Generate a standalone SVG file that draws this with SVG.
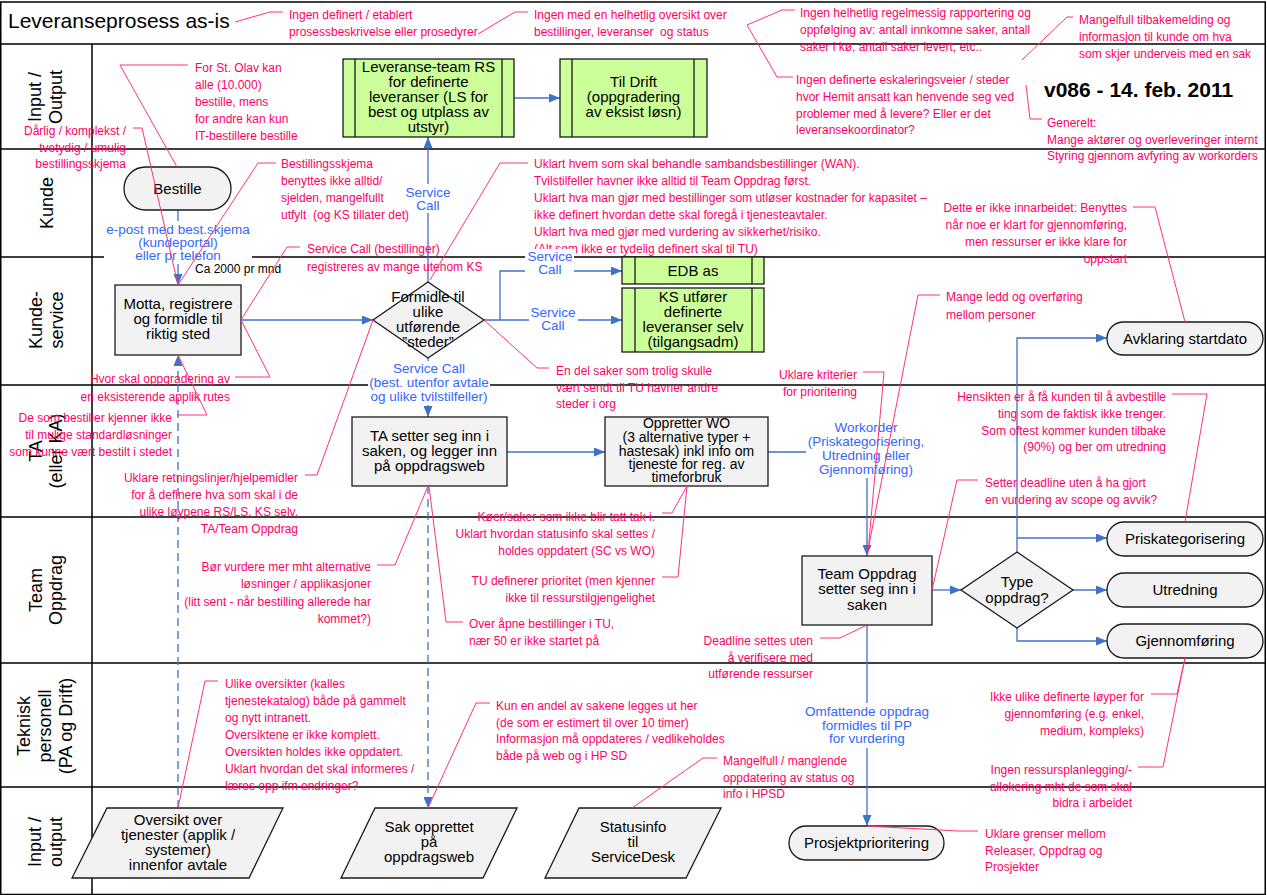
<svg xmlns="http://www.w3.org/2000/svg" width="1267" height="895" viewBox="0 0 1267 895">
<style>
text{font-family:"Liberation Sans",Arial,Helvetica,sans-serif;white-space:pre}
.lane{stroke:#000;stroke-width:1.5;fill:none}
.node{fill:#f2f2f2;stroke:#1a1a1a;stroke-width:1.3}
.sub{fill:#ccff99;stroke:#1a1a1a;stroke-width:1.3}
.nt{font-size:15px;fill:#000;text-anchor:middle}
.ll{font-size:18px;fill:#000;text-anchor:middle}
.bl{font-size:13.5px;fill:#3366ff;text-anchor:middle}
.bg{fill:#fff;stroke:none}
.rt{font-size:12px;fill:#ff0066}
.re{text-anchor:end}
.cl{fill:none;stroke:#ff3377;stroke-width:1}
.cn{fill:none;stroke:#3f72c6;stroke-width:1.3}
.dash{stroke-dasharray:8 5}
</style>
<defs>
<marker id="arr" viewBox="0 0 11 9" refX="11" refY="4.5" markerWidth="11" markerHeight="9" markerUnits="userSpaceOnUse" orient="auto"><path d="M0,0 L11,4.5 L0,9 z" fill="#3f72c6"/></marker>
</defs>
<rect width="1267" height="895" fill="#fff"/>
<g id="lanes">
<rect class="lane" x="0.75" y="2" width="1264.5" height="892.5"/>
<path class="lane" d="M0,44 H1265 M0,149 H1265 M0,257 H1265 M0,385 H1265 M0,517 H1265 M0,663 H1265 M0,787 H1265 M92,44 V895"/>
<text x="8" y="28" style="font-size:21px">Leveranseprosess as-is</text>
<text x="1044" y="97" style="font-size:21px;font-weight:bold">v086 - 14. feb. 2011</text>
<text class="ll" transform="translate(0,97) rotate(-90)"><tspan x="0" y="41">Input /</tspan><tspan x="0" y="62">Output</tspan></text>
<text class="ll" transform="translate(0,203) rotate(-90)"><tspan x="0" y="53">Kunde</tspan></text>
<text class="ll" transform="translate(0,320) rotate(-90)"><tspan x="0" y="42">Kunde-</tspan><tspan x="0" y="63">service</tspan></text>
<text class="ll" transform="translate(0,451) rotate(-90)"><tspan x="0" y="42">TA</tspan><tspan x="0" y="62">(eller KA)</tspan></text>
<text class="ll" transform="translate(0,590) rotate(-90)"><tspan x="0" y="42">Team</tspan><tspan x="0" y="62">Oppdrag</tspan></text>
<text class="ll" transform="translate(0,726) rotate(-90)"><tspan x="0" y="30">Teknisk</tspan><tspan x="0" y="51">personell</tspan><tspan x="0" y="72">(PA og Drift)</tspan></text>
<text class="ll" transform="translate(0,842) rotate(-90)"><tspan x="0" y="41">Input /</tspan><tspan x="0" y="62">output</tspan></text>
</g>
<g id="connectors">
<path class="cn" d="M514,98 H560" marker-end="url(#arr)"/>
<path class="cn" d="M178,210 V285" marker-end="url(#arr)"/>
<path class="cn" d="M241,320 H373" marker-end="url(#arr)"/>
<path class="cn" d="M428,282 V137" marker-end="url(#arr)"/>
<path class="cn" d="M484,320 H622" marker-end="url(#arr)"/>
<path class="cn" d="M500,320 V271 H622" marker-end="url(#arr)"/>
<path class="cn" d="M428,358 V417" marker-end="url(#arr)"/>
<path class="cn" d="M507,452 H605" marker-end="url(#arr)"/>
<path class="cn" d="M768,452 H867 V556" marker-end="url(#arr)"/>
<path class="cn" d="M932,590 H961" marker-end="url(#arr)"/>
<path class="cn" d="M1017,552 V338 H1107" marker-end="url(#arr)"/>
<path class="cn" d="M1017,538 H1107" marker-end="url(#arr)"/>
<path class="cn" d="M1073,590 H1107" marker-end="url(#arr)"/>
<path class="cn" d="M1017,628 V641 H1107" marker-end="url(#arr)"/>
<path class="cn" d="M867,625 V826" marker-end="url(#arr)"/>
<path class="cn dash" d="M178,808 V355" marker-end="url(#arr)"/>
<path class="cn dash" d="M428,486 V808" marker-end="url(#arr)"/>
</g>
<g id="n-leveranseteam">
<rect class="sub" x="343" y="59" width="171" height="78"/>
<path class="sub" d="M355,59 V137 M502,59 V137"/>
<text class="nt"><tspan x="428.5" y="72">Leveranse-team RS</tspan><tspan x="428.5" y="87">for definerte</tspan><tspan x="428.5" y="102">leveranser (LS for</tspan><tspan x="428.5" y="117">best og utplass av</tspan><tspan x="428.5" y="132">utstyr)</tspan></text>
</g>
<g id="n-tildrift">
<rect class="sub" x="560" y="59" width="147" height="78"/>
<path class="sub" d="M572,59 V137 M694,59 V137"/>
<text class="nt"><tspan x="633.5" y="87">Til Drift</tspan><tspan x="633.5" y="102">(oppgradering</tspan><tspan x="633.5" y="117">av eksist løsn)</tspan></text>
</g>
<g id="n-bestille">
<rect class="node" x="124" y="167" width="107" height="43" rx="21.5"/>
<text class="nt" x="177.5" y="194">Bestille</text>
</g>
<g id="n-motta">
<rect class="node" x="115" y="285" width="126" height="70"/>
<text class="nt"><tspan x="178" y="309">Motta, registrere</tspan><tspan x="178" y="324">og formidle til</tspan><tspan x="178" y="339">riktig sted</tspan></text>
</g>
<g id="n-formidle">
<path class="node" d="M428,282 L484,320 L428,358 L373,320 Z"/>
<text class="nt"><tspan x="428" y="302">Formidle til</tspan><tspan x="428" y="317">ulike</tspan><tspan x="428" y="332">utførende</tspan><tspan x="428" y="347">”steder”</tspan></text>
</g>
<g id="n-edb">
<rect class="sub" x="622" y="257" width="142" height="27"/>
<path class="sub" d="M635,257 V284 M752,257 V284"/>
<text class="nt" x="693" y="276">EDB as</text>
</g>
<g id="n-ks">
<rect class="sub" x="622" y="288" width="142" height="64"/>
<path class="sub" d="M635,288 V352 M752,288 V352"/>
<text class="nt"><tspan x="693" y="302">KS utfører</tspan><tspan x="693" y="317">definerte</tspan><tspan x="693" y="332">leveranser selv</tspan><tspan x="693" y="347">(tilgangsadm)</tspan></text>
</g>
<g id="n-ta">
<rect class="node" x="352" y="417" width="155" height="69"/>
<text class="nt"><tspan x="429.5" y="441">TA setter seg inn i</tspan><tspan x="429.5" y="456">saken, og legger inn</tspan><tspan x="429.5" y="471">på oppdragsweb</tspan></text>
</g>
<g id="n-wo">
<rect class="node" x="605" y="417" width="163" height="69"/>
<text class="nt" style="font-size:14px"><tspan x="686.5" y="428">Oppretter WO</tspan><tspan x="686.5" y="442">(3 alternative typer +</tspan><tspan x="686.5" y="455.5">hastesak) inkl info om</tspan><tspan x="686.5" y="469">tjeneste for reg. av</tspan><tspan x="686.5" y="482">timeforbruk</tspan></text>
</g>
<g id="n-teamoppdrag">
<rect class="node" x="802" y="556" width="130" height="69"/>
<text class="nt"><tspan x="867" y="579">Team Oppdrag</tspan><tspan x="867" y="594">setter seg inn i</tspan><tspan x="867" y="610">saken</tspan></text>
</g>
<g id="n-type">
<path class="node" d="M1017,552 L1073,590 L1017,628 L961,590 Z"/>
<text class="nt"><tspan x="1017" y="587">Type</tspan><tspan x="1017" y="603">oppdrag?</tspan></text>
</g>
<g id="n-avklaring">
<rect class="node" x="1107" y="322" width="156" height="33" rx="16.5"/>
<text class="nt" x="1185" y="344">Avklaring startdato</text>
</g>
<g id="n-pris">
<rect class="node" x="1107" y="522" width="156" height="34" rx="17"/>
<text class="nt" x="1185" y="544">Priskategorisering</text>
</g>
<g id="n-utredning">
<rect class="node" x="1107" y="573" width="156" height="34" rx="17"/>
<text class="nt" x="1185" y="595">Utredning</text>
</g>
<g id="n-gjennomforing">
<rect class="node" x="1107" y="624" width="156" height="34" rx="17"/>
<text class="nt" x="1185" y="646">Gjennomføring</text>
</g>
<g id="n-prosjekt">
<rect class="node" x="789" y="826" width="155" height="34" rx="17"/>
<text class="nt" x="866.5" y="848">Prosjektprioritering</text>
</g>
<g id="n-oversikt">
<path class="node" d="M107,808 H283 L249,878 H72 Z"/>
<text class="nt"><tspan x="178" y="825">Oversikt over</tspan><tspan x="178" y="840">tjenester (applik /</tspan><tspan x="178" y="855">systemer)</tspan><tspan x="178" y="870">innenfor avtale</tspan></text>
</g>
<g id="n-sak">
<path class="node" d="M375,808 H517 L483,878 H341 Z"/>
<text class="nt"><tspan x="429" y="832">Sak opprettet</tspan><tspan x="429" y="847">på</tspan><tspan x="429" y="862">oppdragsweb</tspan></text>
</g>
<g id="n-statusinfo">
<path class="node" d="M579,808 H721 L686,878 H545 Z"/>
<text class="nt"><tspan x="633" y="832">Statusinfo</tspan><tspan x="633" y="847">til</tspan><tspan x="633" y="862">ServiceDesk</tspan></text>
</g>
<g id="callout-texts">
<text class="rt"><tspan x="289" y="19">Ingen definert / etablert</tspan><tspan x="289" y="36">prosessbeskrivelse eller prosedyrer</tspan></text>
<text class="rt"><tspan x="534" y="19">Ingen med en helhetlig oversikt over</tspan><tspan x="534" y="36">bestillinger, leveranser  og status</tspan></text>
<text class="rt"><tspan x="800" y="17">Ingen helhetlig regelmessig rapportering og</tspan><tspan x="800" y="34">oppfølging av: antall innkomne saker, antall</tspan><tspan x="800" y="51">saker i kø, antall saker levert, etc..</tspan></text>
<text class="rt"><tspan x="796" y="84">Ingen definerte eskaleringsveier / steder</tspan><tspan x="796" y="101">hvor Hemit ansatt kan henvende seg ved</tspan><tspan x="796" y="118">problemer med å levere? Eller er det</tspan><tspan x="796" y="134">leveransekoordinator?</tspan></text>
<text class="rt"><tspan x="1079" y="24">Mangelfull tilbakemelding og</tspan><tspan x="1079" y="41">informasjon til kunde om hva</tspan><tspan x="1079" y="58">som skjer underveis med en sak</tspan></text>
<text class="rt"><tspan x="1047" y="127">Generelt:</tspan><tspan x="1047" y="144">Mange aktører og overleveringer internt</tspan><tspan x="1047" y="160">Styring gjennom avfyring av workorders</tspan></text>
<text class="rt"><tspan x="195" y="72">For St. Olav kan</tspan><tspan x="195" y="89">alle (10.000)</tspan><tspan x="195" y="106">bestille, mens</tspan><tspan x="195" y="123">for andre kan kun</tspan><tspan x="195" y="140">IT-bestillere bestille</tspan></text>
<text class="rt re"><tspan x="126" y="135">Dårlig / komplekst /</tspan><tspan x="126" y="152">tvetydig / umulig</tspan><tspan x="126" y="168">bestillingsskjema</tspan></text>
<text class="rt"><tspan x="281" y="168">Bestillingsskjema</tspan><tspan x="281" y="185">benyttes ikke alltid/</tspan><tspan x="281" y="202">sjelden, mangelfullt</tspan><tspan x="281" y="219">utfylt  (og KS tillater det)</tspan></text>
<text class="rt"><tspan x="307" y="253">Service Call (bestillinger)</tspan><tspan x="307" y="271">registreres av mange utenom KS</tspan></text>
<text class="rt re"><tspan x="230" y="383">Hvor skal oppgradering av</tspan><tspan x="230" y="401">en eksisterende applik rutes</tspan></text>
<text class="rt re"><tspan x="172" y="422">De som bestiller kjenner ikke</tspan><tspan x="172" y="439">til mulige standardløsninger</tspan><tspan x="172" y="456">som kunne vært bestilt i stedet</tspan></text>
<text class="rt re"><tspan x="298" y="482">Uklare retningslinjer/hjelpemidler</tspan><tspan x="298" y="499">for å definere hva som skal i de</tspan><tspan x="298" y="516">ulike løypene RS/LS, KS selv,</tspan><tspan x="298" y="533">TA/Team Oppdrag</tspan></text>
<text class="rt"><tspan x="534" y="168">Uklart hvem som skal behandle sambandsbestillinger (WAN).</tspan><tspan x="534" y="185">Tvilstilfeller havner ikke alltid til Team Oppdrag først.</tspan><tspan x="534" y="202">Uklart hva man gjør med bestillinger som utløser kostnader for kapasitet –</tspan><tspan x="534" y="219">ikke definert hvordan dette skal foregå i tjenesteavtaler.</tspan><tspan x="534" y="236">Uklart hva med gjør med vurdering av sikkerhet/risiko.</tspan><tspan x="534" y="253">(Alt som ikke er tydelig definert skal til TU)</tspan></text>
<text class="rt"><tspan x="556" y="375">En del saker som trolig skulle</tspan><tspan x="556" y="392">vært sendt til TU havner andre</tspan><tspan x="556" y="408">steder i org</tspan></text>
<text class="rt re"><tspan x="1127" y="212">Dette er ikke innarbeidet: Benyttes</tspan><tspan x="1127" y="229">når noe er klart for gjennomføring,</tspan><tspan x="1127" y="246">men ressurser er ikke klare for</tspan><tspan x="1127" y="263">oppstart</tspan></text>
<text class="rt"><tspan x="946" y="301">Mange ledd og overføring</tspan><tspan x="946" y="319">mellom personer</tspan></text>
<text class="rt re"><tspan x="857" y="379">Uklare kriterier</tspan><tspan x="857" y="396">for prioritering</tspan></text>
<text class="rt re"><tspan x="1166" y="401">Hensikten er å få kunden til å avbestille</tspan><tspan x="1166" y="418">ting som de faktisk ikke trenger.</tspan><tspan x="1166" y="435">Som oftest kommer kunden tilbake</tspan><tspan x="1166" y="451">(90%) og ber om utredning</tspan></text>
<text class="rt"><tspan x="985" y="487">Setter deadline uten å ha gjort</tspan><tspan x="985" y="504">en vurdering av scope og avvik?</tspan></text>
<text class="rt re"><tspan x="655" y="521">Køer/saker som ikke blir tatt tak i.</tspan><tspan x="655" y="538">Uklart hvordan statusinfo skal settes /</tspan><tspan x="655" y="555">holdes oppdatert (SC vs WO)</tspan></text>
<text class="rt re"><tspan x="655" y="585">TU definerer prioritet (men kjenner</tspan><tspan x="655" y="602">ikke til ressurstilgjengelighet</tspan></text>
<text class="rt re"><tspan x="371" y="571">Bør vurdere mer mht alternative</tspan><tspan x="371" y="588">løsninger / applikasjoner</tspan><tspan x="371" y="606">(litt sent - når bestilling allerede har</tspan><tspan x="371" y="623">kommet?)</tspan></text>
<text class="rt"><tspan x="469" y="628">Over åpne bestillinger i TU,</tspan><tspan x="469" y="645">nær 50 er ikke startet på</tspan></text>
<text class="rt"><tspan x="225" y="688">Ulike oversikter (kalles</tspan><tspan x="225" y="705">tjenestekatalog) både på gammelt</tspan><tspan x="225" y="722">og nytt intranett.</tspan><tspan x="225" y="739">Oversiktene er ikke komplett.</tspan><tspan x="225" y="756">Oversikten holdes ikke oppdatert.</tspan><tspan x="225" y="773">Uklart hvordan det skal informeres /</tspan><tspan x="225" y="790">læres opp ifm endringer?</tspan></text>
<text class="rt"><tspan x="496" y="710">Kun en andel av sakene legges ut her</tspan><tspan x="496" y="727">(de som er estimert til over 10 timer)</tspan><tspan x="496" y="743">Informasjon må oppdateres / vedlikeholdes</tspan><tspan x="496" y="760">både på web og i HP SD</tspan></text>
<text class="rt"><tspan x="723" y="765">Mangelfull / manglende</tspan><tspan x="723" y="782">oppdatering av status og</tspan><tspan x="723" y="798">info i HPSD</tspan></text>
<text class="rt re"><tspan x="813" y="645">Deadline settes uten</tspan><tspan x="813" y="662">å verifisere med</tspan><tspan x="813" y="678">utførende ressurser</tspan></text>
<text class="rt re"><tspan x="1144" y="701">Ikke ulike definerte løyper for</tspan><tspan x="1144" y="718">gjennomføring (e.g. enkel,</tspan><tspan x="1144" y="735">medium, kompleks)</tspan></text>
<text class="rt re"><tspan x="1132" y="774">Ingen ressursplanlegging/-</tspan><tspan x="1132" y="791">allokering mht de som skal</tspan><tspan x="1132" y="807">bidra i arbeidet</tspan></text>
<text class="rt"><tspan x="985" y="838">Uklare grenser mellom</tspan><tspan x="985" y="855">Releaser, Oppdrag og</tspan><tspan x="985" y="871">Prosjekter</tspan></text>
</g>
<g id="connector-labels">
<rect class="bg" x="421" y="184" width="14" height="29"/>
<text class="bl"><tspan x="428" y="197">Service</tspan><tspan x="428" y="210">Call</tspan></text>
<rect class="bg" x="104" y="221" width="148" height="43"/>
<text class="bl"><tspan x="178" y="234">e-post med best.skjema</tspan><tspan x="178" y="247">(kundeportal)</tspan><tspan x="178" y="260">eller pr telefon</tspan></text>
<text x="195" y="273" style="font-size:12px;fill:#000">Ca 2000 pr mnd</text>
<rect class="bg" x="525" y="249" width="49" height="29"/>
<text class="bl"><tspan x="550" y="261">Service</tspan><tspan x="550" y="274">Call</tspan></text>
<rect class="bg" x="529" y="304" width="49" height="29"/>
<text class="bl"><tspan x="553" y="317">Service</tspan><tspan x="553" y="330">Call</tspan></text>
<rect class="bg" x="368" y="361" width="122" height="44"/>
<text class="bl"><tspan x="429" y="373">Service Call</tspan><tspan x="429" y="387">(best. utenfor avtale</tspan><tspan x="429" y="401">og ulike tvilstilfeller)</tspan></text>
<rect class="bg" x="806" y="418" width="120" height="60"/>
<text class="bl"><tspan x="866" y="432">Workorder</tspan><tspan x="866" y="446">(Priskategorisering,</tspan><tspan x="866" y="460">Utredning eller</tspan><tspan x="866" y="474">Gjennomføring)</tspan></text>
<rect class="bg" x="805" y="703" width="125" height="45"/>
<text class="bl"><tspan x="867" y="716">Omfattende oppdrag</tspan><tspan x="867" y="730">formidles til PP</tspan><tspan x="867" y="743">for vurdering</tspan></text>
</g>
<g id="callout-lines">
<path class="cl" d="M235,22 L270,12 H283"/>
<path class="cl" d="M478,34 L515,12 H528"/>
<path class="cl" d="M795,10 H782 L747,25 L777,77 H793"/>
<path class="cl" d="M1022,60 L1067,17 H1073"/>
<path class="cl" d="M1026,85 L1030,119 H1042"/>
<path class="cl" d="M188,65 H120 L177,167"/>
<path class="cl" d="M133,128 H142 L178,285"/>
<path class="cl" d="M276,163 H258 L178,285"/>
<path class="cl" d="M300,247 H287 L241,320"/>
<path class="cl" d="M235,377 H270 L241,320"/>
<path class="cl" d="M177,415 H207 L178,355"/>
<path class="cl" d="M305,475 H317 L373,320"/>
<path class="cl" d="M528,163 H500 L430,280"/>
<path class="cl" d="M484,320 L537,368 H549"/>
<path class="cl" d="M1133,207 H1155 L1185,322"/>
<path class="cl" d="M940,295 H918 L867,555"/>
<path class="cl" d="M863,372 H884 L868,553"/>
<path class="cl" d="M1172,394 H1207 L1185,522"/>
<path class="cl" d="M978,480 H957 L932,590"/>
<path class="cl" d="M662,513 H672 L687,486 M662,577 H678 L687,486"/>
<path class="cl" d="M377,565 H395 L428,486"/>
<path class="cl" d="M429,486 L446,622 H463"/>
<path class="cl" d="M178,808 L205,681 H218"/>
<path class="cl" d="M428,808 L476,703 H490"/>
<path class="cl" d="M632,808 L703,758 H717"/>
<path class="cl" d="M867,625 L840,638 H820"/>
<path class="cl" d="M1151,694 H1177 L1185,658"/>
<path class="cl" d="M1138,767 H1163 L1185,658"/>
<path class="cl" d="M867,826 L958,831 H978"/>
</g>
</svg>
